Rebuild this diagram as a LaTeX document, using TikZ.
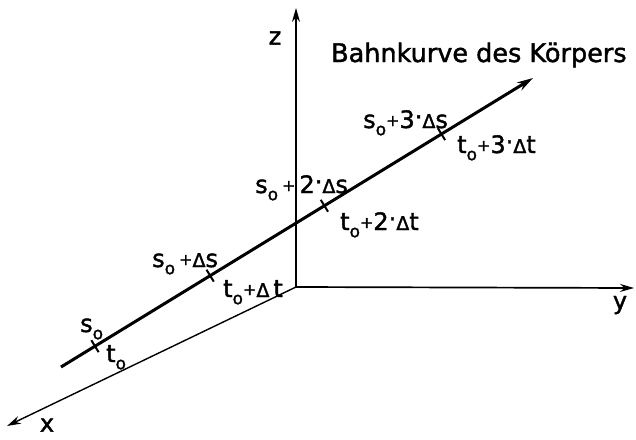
\documentclass[tikz,border=0pt]{standalone}
\usepackage{fontspec}
\usepackage{graphicx}
\setmainfont{DejaVu Sans}[FakeBold=1.6]
\usetikzlibrary{calc,arrows.meta}
\newcommand\lo{\raisebox{-0.3em}{\fontsize{17}{17}\selectfont o}}
\newcommand\pl{\raisebox{0.08em}{\fontsize{16}{16}\selectfont +}}
\newcommand\Dl{{\fontsize{19}{19}\selectfont Δ}}
\newcommand\md{\raisebox{0.12em}{·}}
\begin{document}
\begin{tikzpicture}[x=1pt,y=-1pt,
  lbl/.style={inner sep=0pt, font=\fontsize{24}{26}\selectfont},
  axis/.style={line width=1.7pt, -{Stealth[length=14pt,width=8pt]}},
  traj/.style={line width=3pt, -{Stealth[length=16pt,width=9pt]}},
  tick/.style={line width=2pt}]
\useasboundingbox (0,0) rectangle (636,439);
\fill[white] (0,0) rectangle (636,439);
\coordinate (O) at (296,287);
\coordinate (ztip) at (296,8);
\coordinate (ytip) at (634,288);
\coordinate (xtip) at (7,426);
\coordinate (start) at (61,367);
\coordinate (end) at (533,78);
\draw[axis] (O) -- (ztip);
\draw[axis] (O) -- (ytip);
\draw[axis, line width=1.4pt] (O) -- (xtip);
\draw[traj] (start) -- (end);
\path (start) -- (end)
  coordinate[pos=0.072] (t0)
  coordinate[pos=0.316] (t1)
  coordinate[pos=0.558] (t2)
  coordinate[pos=0.806] (t3);
\foreach \t in {t0,t1,t2,t3}
  \draw[tick] ($(\t)!7pt!90:(end)$) -- ($(\t)!7pt!-90:(end)$);
\node[lbl] (zl) at (275,38) {z};
\node[lbl] (yl) at (620,305) {y};
\node[lbl] (xl) at (47,425) {x};
\node[lbl, anchor=base west] (title) at (331,62) {\fontsize{25.5}{27}\selectfont Bahnkurve des Körpers};
\node[lbl, anchor=base west] (s0) at (80,332) {s\lo};
\node[lbl, anchor=base west] (tt0) at (106,362) {t\lo};
\node[lbl, anchor=base west] (s1) at (152,267) {s\lo\,\pl\Dl s};
\node[lbl, anchor=base west] (tt1) at (223,297) {t\lo\pl\Dl\,t};
\node[lbl, anchor=base west] (s2) at (255,193) {s\lo\,\pl\,2\md\Dl s};
\node[lbl, anchor=base west] (tt2) at (340,230) {t\lo\pl2\md\Dl t};
\node[lbl, anchor=base west] (s3) at (363,128) {s\lo\pl3\md\Dl s};
\node[lbl, anchor=base west] (tt3) at (457,153) {t\lo\pl3\md\Dl t};
\end{tikzpicture}
\end{document}
